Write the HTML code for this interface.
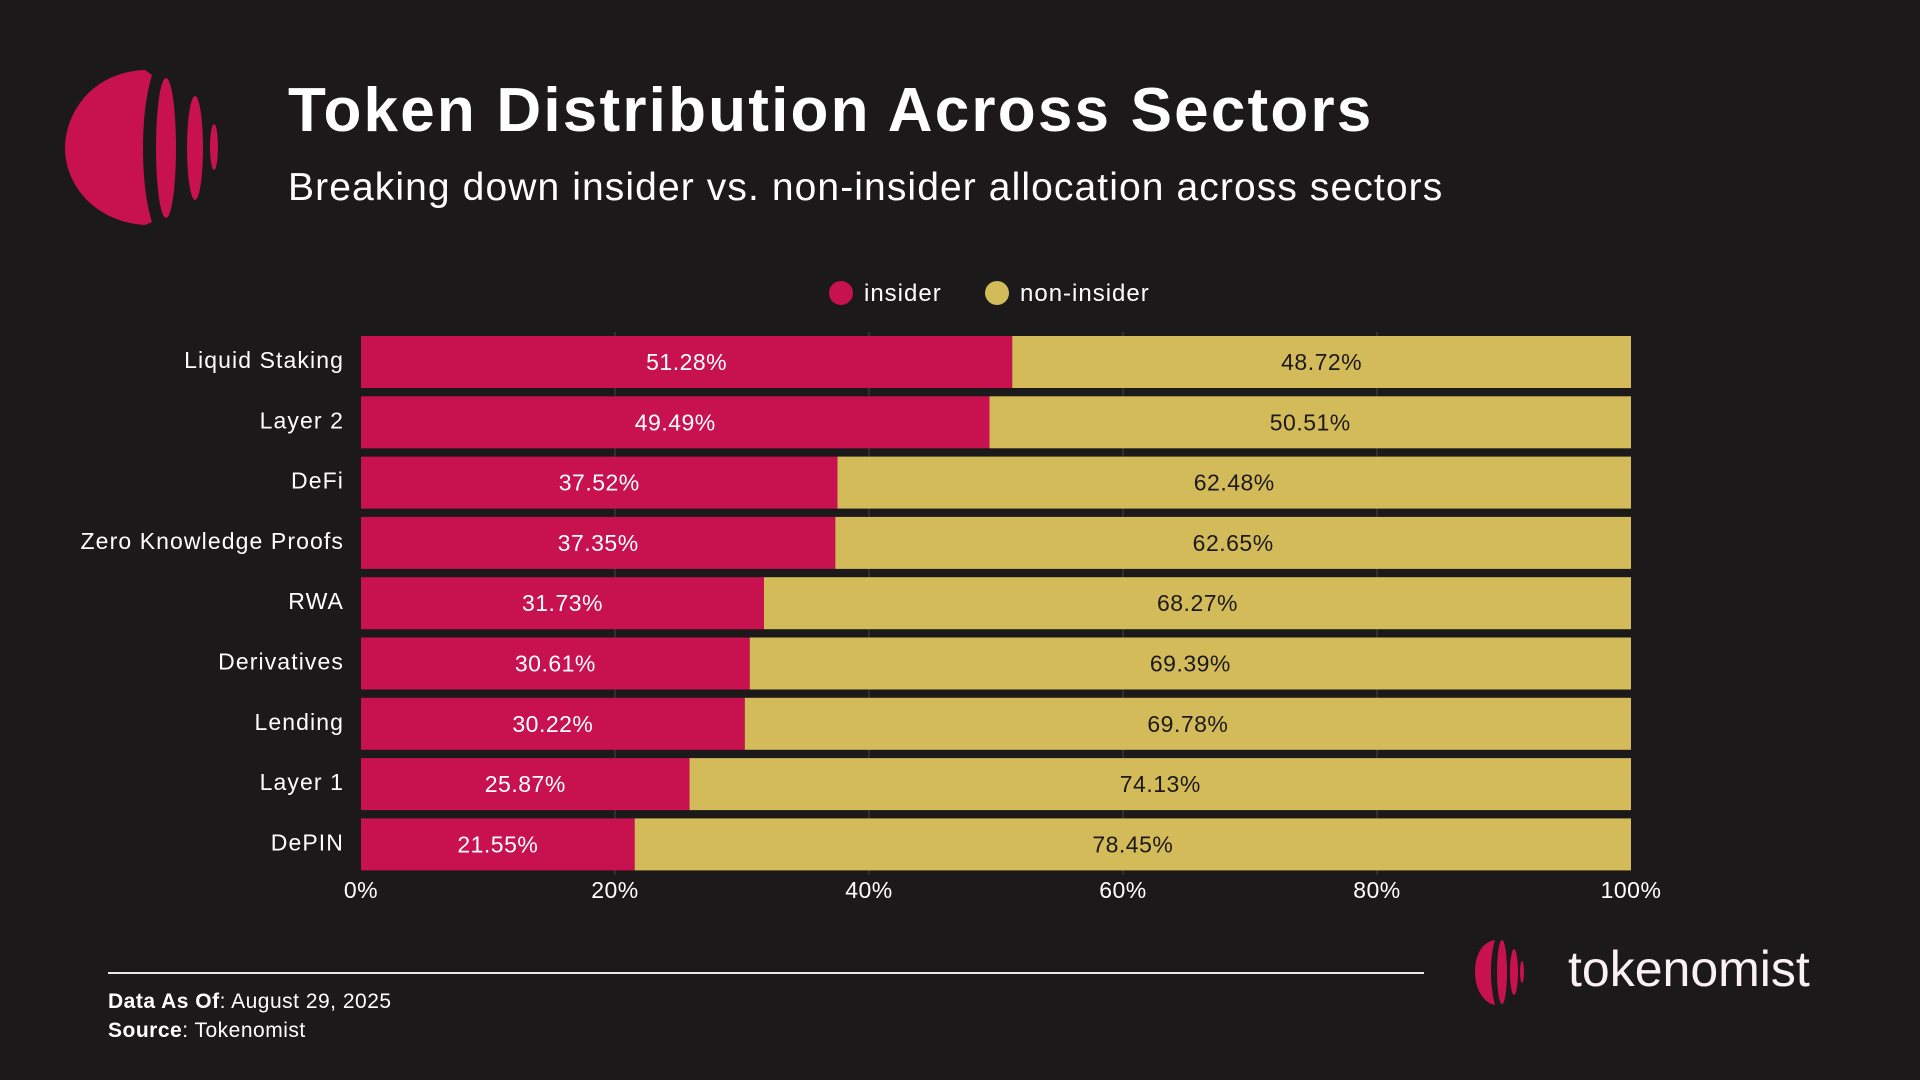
<!DOCTYPE html>
<html><head><meta charset="utf-8"><style>
html,body{margin:0;padding:0;background:#1c191a;}
body{width:1920px;height:1080px;position:relative;overflow:hidden;font-family:"Liberation Sans",sans-serif;color:#fff;}
.abs{position:absolute;}
</style></head><body>
<svg class="abs" style="left:0;top:0" width="240" height="240">
<path d="M145,70 C90,72 65,115 65,148 C65,185 95,222 145,225 L152,222 C145,200 143,170 143,148 C143,120 146,95 152,75 Z" fill="#c8114f"/>
<ellipse cx="166" cy="148" rx="10" ry="70" fill="#c8114f"/>
<ellipse cx="195" cy="148" rx="8" ry="52" fill="#c8114f"/>
<ellipse cx="214" cy="147" rx="4" ry="23" fill="#c8114f"/>
</svg>
<div class="abs" style="left:288px;top:75px;font-size:62px;font-weight:bold;letter-spacing:2.2px;white-space:nowrap">Token Distribution Across Sectors</div>
<div class="abs" style="left:288px;top:166px;font-size:39px;letter-spacing:1.1px;white-space:nowrap">Breaking down insider vs. non-insider allocation across sectors</div>
<div class="abs" style="left:829px;top:280px;font-size:24px;letter-spacing:1px;white-space:nowrap"><span style="display:inline-block;width:24px;height:24px;border-radius:50%;background:#c8114f;vertical-align:-4px;margin-right:11px"></span>insider</div>
<div class="abs" style="left:985px;top:280px;font-size:24px;letter-spacing:1px;white-space:nowrap"><span style="display:inline-block;width:24px;height:24px;border-radius:50%;background:#d4bb5a;vertical-align:-4px;margin-right:11px"></span>non-insider</div>
<svg class="abs" id="chart" style="left:0;top:0" width="1920" height="1080"></svg>
<div class="abs" style="left:108px;top:972px;width:1316px;height:2px;background:#e8e8e8"></div>
<div class="abs" style="left:108px;top:990px;font-size:21px;letter-spacing:0.5px"><b>Data As Of</b>: August 29, 2025</div>
<div class="abs" style="left:108px;top:1019px;font-size:21px;letter-spacing:0.5px"><b>Source</b>: Tokenomist</div>
<svg class="abs" style="left:1470px;top:935px" width="80" height="80">
<path d="M25,5 C12,7 5,20 5,37 C5,55 14,68 25,70 C22,58 21,47 21,37 C21,26 22,15 25,5 Z" fill="#c8114f"/>
<ellipse cx="32" cy="37" rx="5" ry="32" fill="#c8114f"/>
<ellipse cx="44" cy="37" rx="4" ry="23" fill="#c8114f"/>
<ellipse cx="52" cy="37" rx="2" ry="11" fill="#c8114f"/>
</svg>
<div class="abs" style="left:1568px;top:940px;font-size:50px;color:#fbf1f4">tokenomist</div>
<script>
const categories=["Liquid Staking","Layer 2","DeFi","Zero Knowledge Proofs","RWA","Derivatives","Lending","Layer 1","DePIN"];
const insider=[51.28,49.49,37.52,37.35,31.73,30.61,30.22,25.87,21.55];
const nonInsider=[48.72,50.51,62.48,62.65,68.27,69.39,69.78,74.13,78.45];
const xTicks=[0,20,40,60,80,100];
const X0=361,X1=1631,Y0=332,STEP=60.3,BH=52;
const svg=document.getElementById('chart');
const NS='http://www.w3.org/2000/svg';
function x(v){return X0+(X1-X0)*v/100;}
function y(i){return Y0+i*STEP+4;}
function mk(t,a){const e=document.createElementNS(NS,t);for(const k in a)e.setAttribute(k,a[k]);svg.appendChild(e);return e;}
function txt(s,a){const e=mk('text',Object.assign({'font-family':'Liberation Sans, sans-serif'},a));e.textContent=s;return e;}
categories.forEach((c,i)=>{
  const yy=y(i);
  let r=mk('rect',{x:x(0),y:yy,width:x(insider[i])-x(0),height:BH,fill:'#c8114f'});
  
  
  r=mk('rect',{x:x(insider[i]),y:yy,width:x(insider[i]+nonInsider[i])-x(insider[i]),height:BH,fill:'#d4bb5a'});
  
  
  let t=txt(insider[i].toFixed(2)+'%',{x:(x(0)+x(insider[i]))/2,y:yy+BH/2+8,'text-anchor':'middle','font-size':23,'letter-spacing':0.5,fill:'#fff'});
  
  
  t=txt(nonInsider[i].toFixed(2)+'%',{x:(x(insider[i])+x(insider[i]+nonInsider[i]))/2,y:yy+BH/2+8,'text-anchor':'middle','font-size':23,'letter-spacing':0.5,fill:'#1c191a'});
  
  
  t=txt(c,{x:344,y:yy+BH/2+6,'text-anchor':'end','font-size':23,'letter-spacing':1.1,fill:'#fff'});
  
  
});
xTicks.forEach(v=>{
  if(v>0&&v<100){const g=mk('line',{x1:x(v),x2:x(v),y1:Y0,y2:Y0+categories.length*STEP,stroke:'#444',"stroke-width":1});
  
  
  svg.insertBefore(g,svg.firstChild);}
  const t=txt(v+'%',{x:x(v),y:898,'text-anchor':'middle','font-size':23,'letter-spacing':0.5,fill:'#fff'});
  
  
});
</script>
</body></html>
